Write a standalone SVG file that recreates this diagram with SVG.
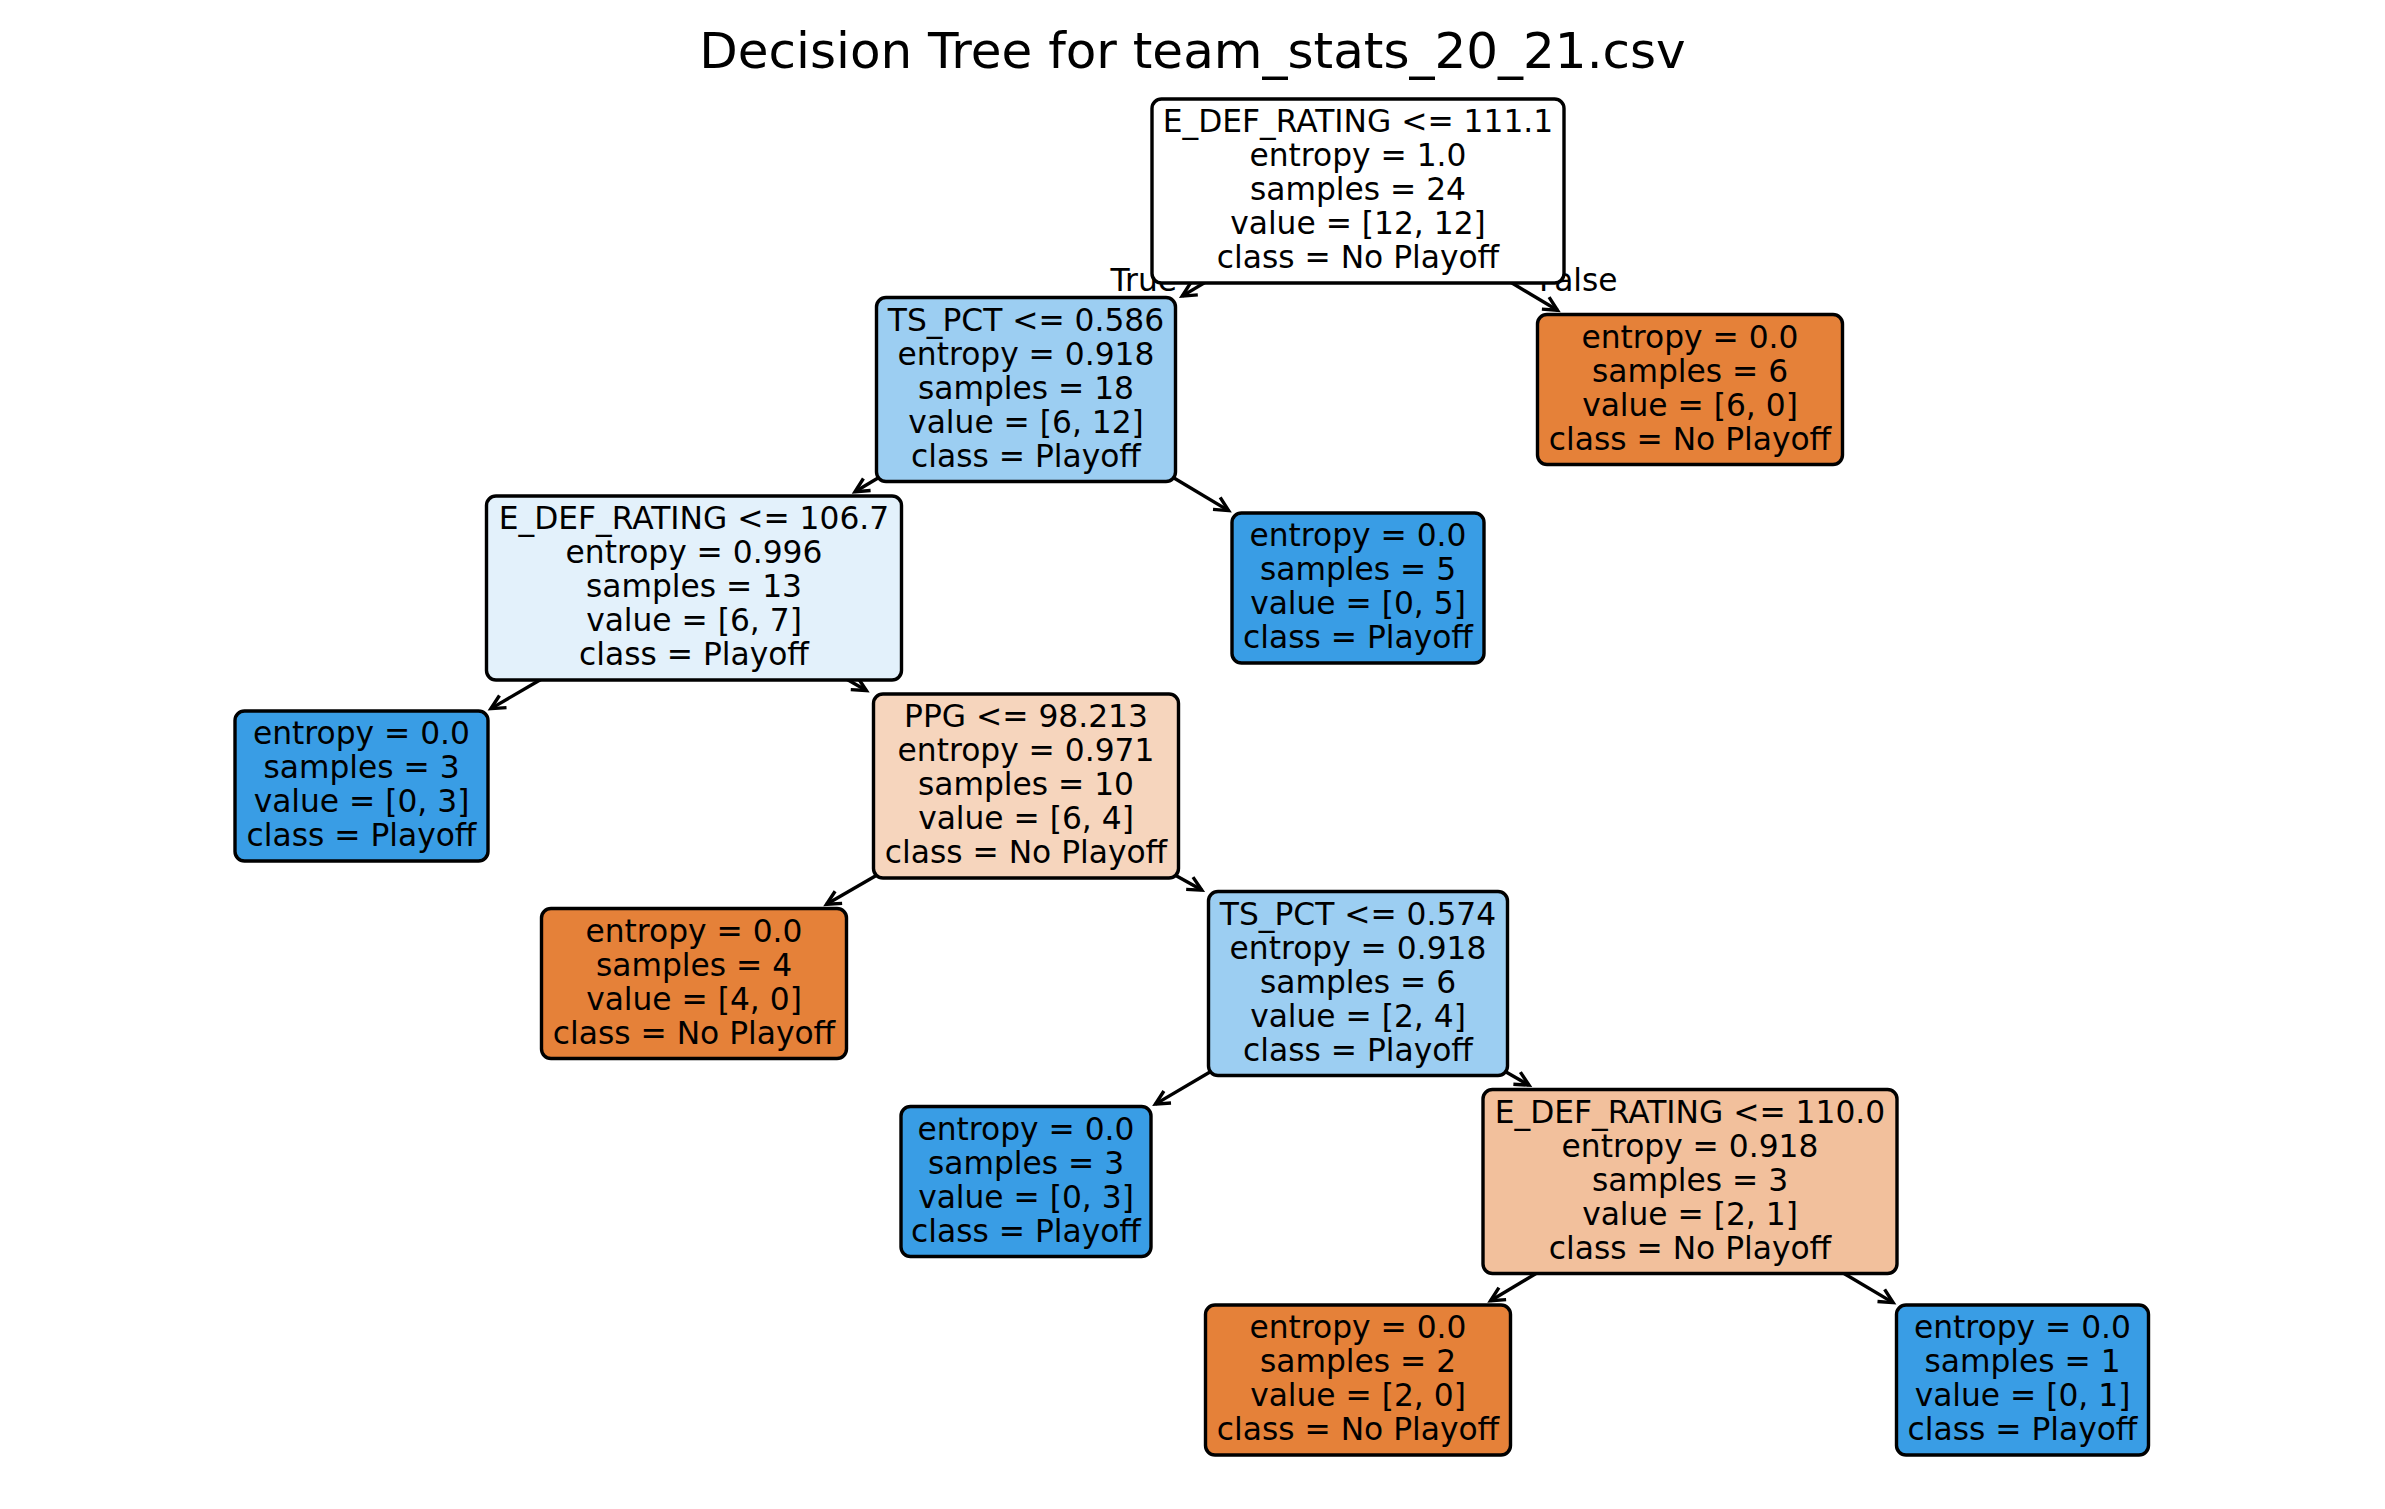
<svg xmlns="http://www.w3.org/2000/svg" width="2385" height="1509" viewBox="0 0 2385 1509">
<style>
text{font-family:"DejaVu Sans","Liberation Sans",sans-serif;fill:#000}
.t{font-size:31.3px;text-anchor:middle}
.title{font-size:50px;text-anchor:middle}
.lbl{font-size:31.3px}
.box{stroke:#000;stroke-width:3.4}
.edge{stroke:#000;stroke-width:3.4;fill:none;marker-end:url(#ah)}
</style>
<defs>
<marker id="ah" markerUnits="userSpaceOnUse" markerWidth="40" markerHeight="40" viewBox="-20 -20 40 40" refX="0" refY="0" orient="auto" overflow="visible">
<path d="M-14,-7 L0,0 L-14,7" fill="none" stroke="#000" stroke-width="3.4" stroke-linejoin="miter" stroke-linecap="butt"/>
</marker>
</defs>
<rect width="2385" height="1509" fill="#fff"/>
<text class="title" x="1192.5" y="68">Decision Tree for team_stats_20_21.csv</text>
<g id="labels">
<text class="lbl" x="1177" y="291" text-anchor="end">True</text>
<text class="lbl" x="1539" y="291">False</text>
</g>
<g id="connectors">
<line class="edge" x1="1206.1" y1="281.8" x2="1182.2" y2="296.1"/>
<line class="edge" x1="1509.9" y1="281.8" x2="1557.5" y2="310.3"/>
<line class="edge" x1="880.1" y1="476.7" x2="855.0" y2="491.7"/>
<line class="edge" x1="1171.9" y1="476.7" x2="1228.6" y2="510.6"/>
<line class="edge" x1="542.1" y1="678.8" x2="490.9" y2="708.6"/>
<line class="edge" x1="845.9" y1="678.8" x2="866.4" y2="690.5"/>
<line class="edge" x1="875.8" y1="875.8" x2="826.5" y2="904.3"/>
<line class="edge" x1="1176.2" y1="875.8" x2="1201.8" y2="890.1"/>
<line class="edge" x1="1212.1" y1="1070.7" x2="1155.4" y2="1104.1"/>
<line class="edge" x1="1503.9" y1="1070.7" x2="1529.0" y2="1085.2"/>
<line class="edge" x1="1538.1" y1="1272.3" x2="1490.5" y2="1300.8"/>
<line class="edge" x1="1841.9" y1="1272.3" x2="1893.1" y2="1302.6"/>
</g>
<g id="node0">
<rect class="box" x="1152" y="99" width="412" height="184" rx="9.5" fill="#ffffff"/>
<text class="t" x="1358" y="132">E_DEF_RATING &lt;= 111.1</text>
<text class="t" x="1358" y="166">entropy = 1.0</text>
<text class="t" x="1358" y="200">samples = 24</text>
<text class="t" x="1358" y="234">value = [12, 12]</text>
<text class="t" x="1358" y="268">class = No Playoff</text>
</g>
<g id="node1">
<rect class="box" x="876.5" y="297.5" width="299" height="184" rx="9.5" fill="#9ccef2"/>
<text class="t" x="1026" y="330.5">TS_PCT &lt;= 0.586</text>
<text class="t" x="1026" y="364.5">entropy = 0.918</text>
<text class="t" x="1026" y="398.5">samples = 18</text>
<text class="t" x="1026" y="432.5">value = [6, 12]</text>
<text class="t" x="1026" y="466.5">class = Playoff</text>
</g>
<g id="node2">
<rect class="box" x="1537.5" y="314.5" width="305" height="150" rx="9.5" fill="#e58139"/>
<text class="t" x="1690" y="347.5">entropy = 0.0</text>
<text class="t" x="1690" y="381.5">samples = 6</text>
<text class="t" x="1690" y="415.5">value = [6, 0]</text>
<text class="t" x="1690" y="449.5">class = No Playoff</text>
</g>
<g id="node3">
<rect class="box" x="486.5" y="496" width="415" height="184" rx="9.5" fill="#e3f1fb"/>
<text class="t" x="694" y="529">E_DEF_RATING &lt;= 106.7</text>
<text class="t" x="694" y="563">entropy = 0.996</text>
<text class="t" x="694" y="597">samples = 13</text>
<text class="t" x="694" y="631">value = [6, 7]</text>
<text class="t" x="694" y="665">class = Playoff</text>
</g>
<g id="node4">
<rect class="box" x="1232" y="513" width="252" height="150" rx="9.5" fill="#399de5"/>
<text class="t" x="1358" y="546">entropy = 0.0</text>
<text class="t" x="1358" y="580">samples = 5</text>
<text class="t" x="1358" y="614">value = [0, 5]</text>
<text class="t" x="1358" y="648">class = Playoff</text>
</g>
<g id="node5">
<rect class="box" x="235" y="711" width="253" height="150" rx="9.5" fill="#399de5"/>
<text class="t" x="361.5" y="744">entropy = 0.0</text>
<text class="t" x="361.5" y="778">samples = 3</text>
<text class="t" x="361.5" y="812">value = [0, 3]</text>
<text class="t" x="361.5" y="846">class = Playoff</text>
</g>
<g id="node6">
<rect class="box" x="873.5" y="694" width="305" height="184" rx="9.5" fill="#f6d5bd"/>
<text class="t" x="1026" y="727">PPG &lt;= 98.213</text>
<text class="t" x="1026" y="761">entropy = 0.971</text>
<text class="t" x="1026" y="795">samples = 10</text>
<text class="t" x="1026" y="829">value = [6, 4]</text>
<text class="t" x="1026" y="863">class = No Playoff</text>
</g>
<g id="node7">
<rect class="box" x="541.5" y="908.5" width="305" height="150" rx="9.5" fill="#e58139"/>
<text class="t" x="694" y="941.5">entropy = 0.0</text>
<text class="t" x="694" y="975.5">samples = 4</text>
<text class="t" x="694" y="1009.5">value = [4, 0]</text>
<text class="t" x="694" y="1043.5">class = No Playoff</text>
</g>
<g id="node8">
<rect class="box" x="1208.5" y="891.5" width="299" height="184" rx="9.5" fill="#9ccef2"/>
<text class="t" x="1358" y="924.5">TS_PCT &lt;= 0.574</text>
<text class="t" x="1358" y="958.5">entropy = 0.918</text>
<text class="t" x="1358" y="992.5">samples = 6</text>
<text class="t" x="1358" y="1026.5">value = [2, 4]</text>
<text class="t" x="1358" y="1060.5">class = Playoff</text>
</g>
<g id="node9">
<rect class="box" x="901" y="1106.5" width="250" height="150" rx="9.5" fill="#399de5"/>
<text class="t" x="1026" y="1139.5">entropy = 0.0</text>
<text class="t" x="1026" y="1173.5">samples = 3</text>
<text class="t" x="1026" y="1207.5">value = [0, 3]</text>
<text class="t" x="1026" y="1241.5">class = Playoff</text>
</g>
<g id="node10">
<rect class="box" x="1483" y="1089.5" width="414" height="184" rx="9.5" fill="#f2c09c"/>
<text class="t" x="1690" y="1122.5">E_DEF_RATING &lt;= 110.0</text>
<text class="t" x="1690" y="1156.5">entropy = 0.918</text>
<text class="t" x="1690" y="1190.5">samples = 3</text>
<text class="t" x="1690" y="1224.5">value = [2, 1]</text>
<text class="t" x="1690" y="1258.5">class = No Playoff</text>
</g>
<g id="node11">
<rect class="box" x="1205.5" y="1305" width="305" height="150" rx="9.5" fill="#e58139"/>
<text class="t" x="1358" y="1338">entropy = 0.0</text>
<text class="t" x="1358" y="1372">samples = 2</text>
<text class="t" x="1358" y="1406">value = [2, 0]</text>
<text class="t" x="1358" y="1440">class = No Playoff</text>
</g>
<g id="node12">
<rect class="box" x="1896.5" y="1305" width="252" height="150" rx="9.5" fill="#399de5"/>
<text class="t" x="2022.5" y="1338">entropy = 0.0</text>
<text class="t" x="2022.5" y="1372">samples = 1</text>
<text class="t" x="2022.5" y="1406">value = [0, 1]</text>
<text class="t" x="2022.5" y="1440">class = Playoff</text>
</g>
</svg>
